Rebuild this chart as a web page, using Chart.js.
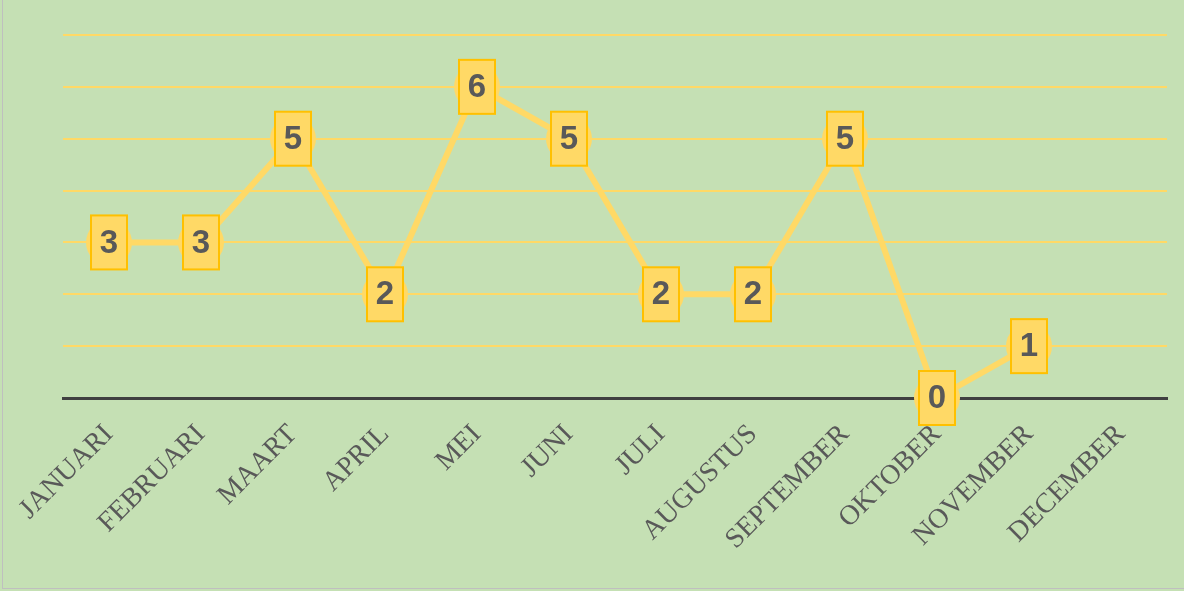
<!DOCTYPE html>
<html>
<head>
<meta charset="utf-8">
<script src="https://cdn.jsdelivr.net/npm/chart.js@4/dist/chart.umd.min.js"></script>
<style>
  html, body { margin: 0; padding: 0; background: #C5E0B4; }
  #wrap { position: relative; width: 1184px; height: 591px; overflow: hidden; }
  #frame { position: absolute; left: 2px; top: -5px; width: 1200px; height: 594px; border: 1px solid #BFBFBF; box-sizing: border-box; }
  canvas { position: absolute; left: 0; top: 0; }
</style>
</head>
<body>
<div id="wrap">
  <div id="frame"></div>
  <canvas id="grafica" width="1184" height="591"></canvas>
</div>
<script>
var maanden = ['JANUARI', 'FEBRUARI', 'MAART', 'APRIL', 'MEI', 'JUNI', 'JULI', 'AUGUSTUS', 'SEPTEMBER', 'OKTOBER', 'NOVEMBER', 'DECEMBER'];
var aantallen = [3, 3, 5, 2, 6, 5, 2, 2, 5, 0, 1, null];

// labels as yellow boxes on top of each point
var labelBoxes = {
    id: 'labelBoxes',
    afterDatasetsDraw: function (chart) {
        var ctx = chart.ctx;
        var meta = chart.getDatasetMeta(0);
        ctx.save();
        meta.data.forEach(function (pt, i) {
            var v = aantallen[i];
            if (v === null || v === undefined) return;
            var w = 36, h = 54;
            ctx.fillStyle = '#FFD966';
            ctx.strokeStyle = '#FFC000';
            ctx.lineWidth = 2;
            ctx.fillRect(pt.x - w / 2, pt.y - h / 2, w, h);
            ctx.strokeRect(pt.x - w / 2, pt.y - h / 2, w, h);
            ctx.fillStyle = '#595959';
            ctx.font = 'bold 33px "Liberation Sans", Arial, sans-serif';
            ctx.textAlign = 'center';
            ctx.textBaseline = 'middle';
            ctx.fillText(String(v), pt.x, pt.y + 1);
        });
        ctx.restore();
    }
};

var ctx = document.getElementById('grafica').getContext('2d');
var chart = new Chart(ctx, {
    type: 'line',
    data: {
        labels: maanden,
        datasets: [
            {
                data: aantallen,
                borderColor: '#FFD966',
                borderWidth: 6,
                pointRadius: 23,
                pointBackgroundColor: '#FFD966',
                pointBorderWidth: 0,
                pointHoverRadius: 23,
                tension: 0,
                clip: false
            }
        ]
    },
    options: {
        responsive: false,
        animation: false,
        layout: {
            autoPadding: false, // otherwise the big points push the plot area in
            padding: { left: 63, right: 17, top: 35, bottom: 0 }
        },
        scales: {
            x: {
                offset: true,
                grid: { display: false },
                border: { display: true, color: '#404040', width: 3 },
                ticks: {
                    autoSkip: false,
                    maxRotation: 45,
                    minRotation: 45,
                    padding: 12,
                    color: '#595959',
                    font: { family: '"Liberation Serif", "Times New Roman", serif', size: 28 }
                },
                afterFit: function (scale) {
                    scale.height = 193;
                    scale.paddingLeft = 0;
                    scale.paddingRight = 0;
                }
            },
            y: {
                min: 0,
                max: 7,
                ticks: { display: false, stepSize: 1 },
                border: { display: false },
                grid: {
                    drawTicks: false,
                    lineWidth: 2,
                    color: function (c) { return c.tick && c.tick.value === 0 ? 'rgba(0,0,0,0)' : '#FFD966'; }
                },
                afterFit: function (scale) { scale.width = 0; }
            }
        },
        plugins: {
            legend: { display: false },
            tooltip: { enabled: false }
        }
    },
    plugins: [labelBoxes]
});
</script>
</body>
</html>
